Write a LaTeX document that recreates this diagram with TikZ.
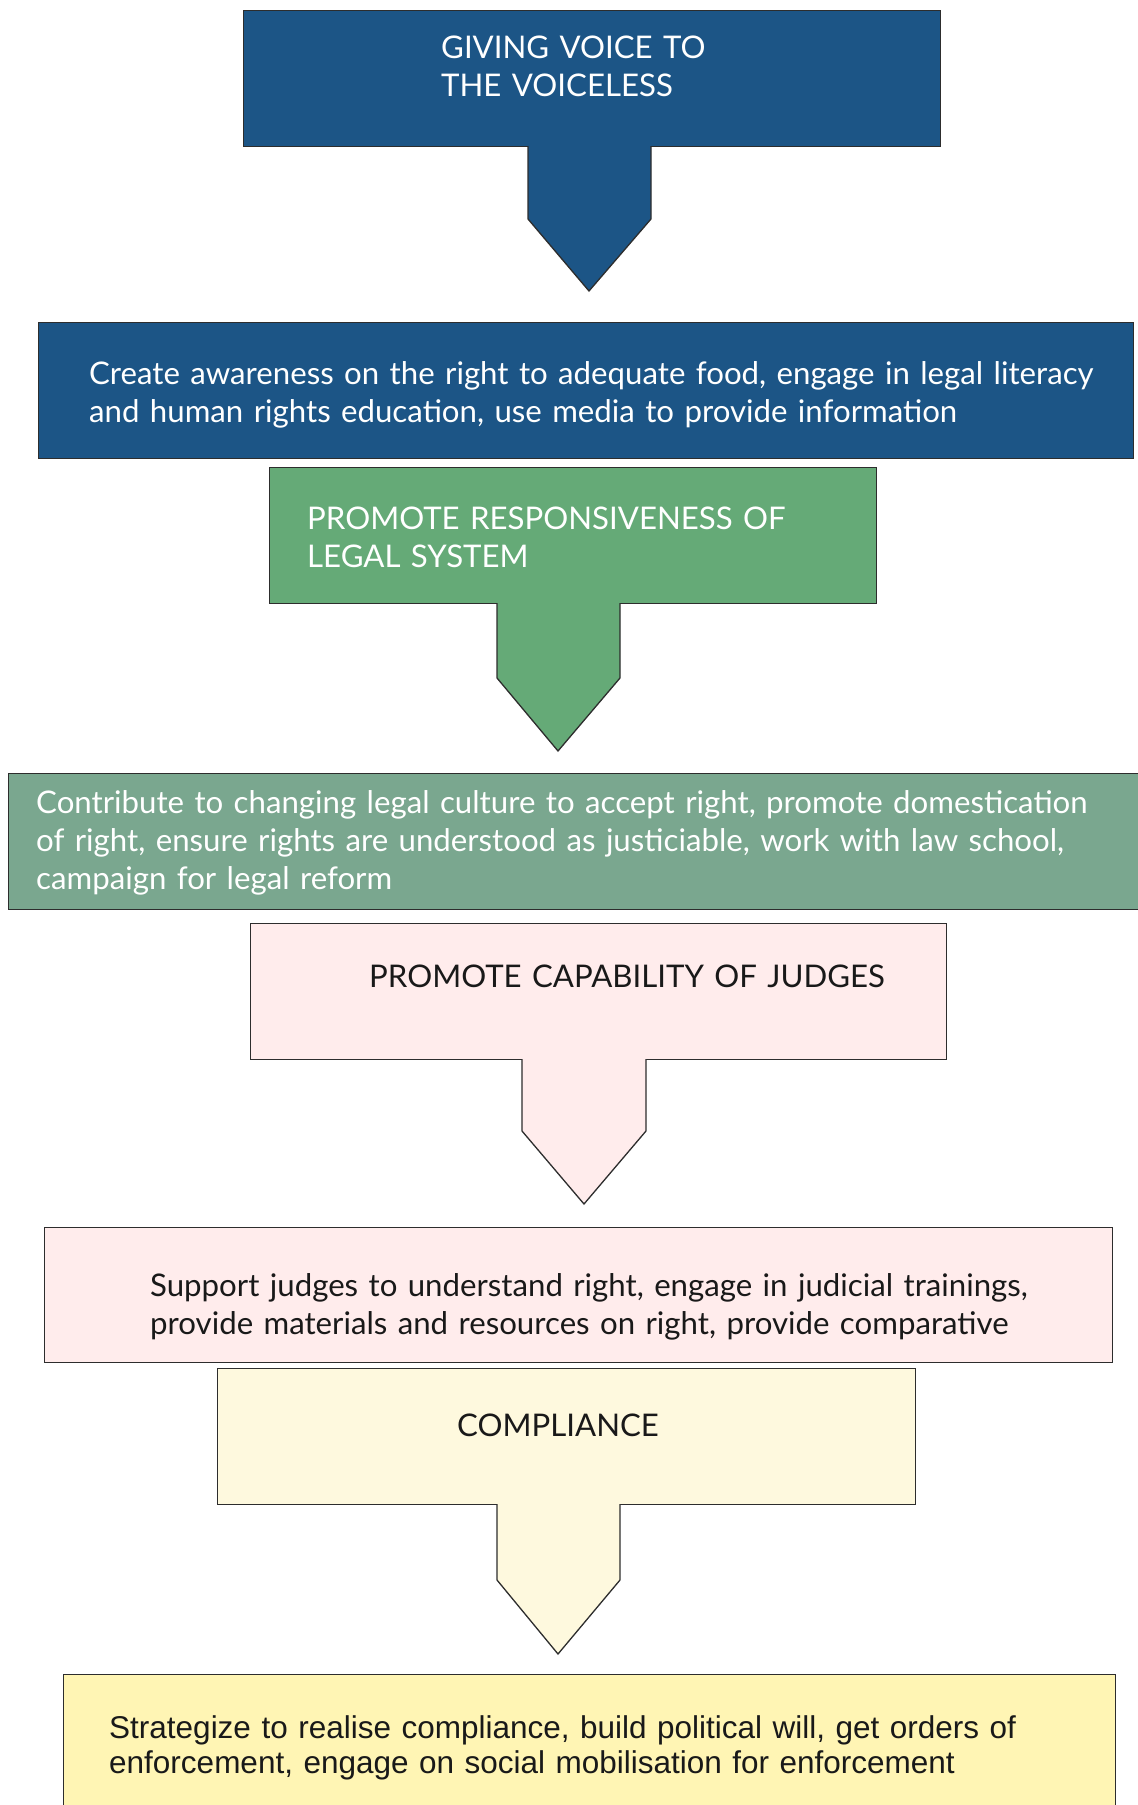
\documentclass[tikz,border=0pt]{standalone}
\usepackage{fontspec}
\setmainfont{Lato}
\newfontfamily\arialfont{Liberation Sans}
\usetikzlibrary{positioning,calc}

\definecolor{voiceblue}{RGB}{28,85,134}
\definecolor{legalgreen}{RGB}{101,170,119}
\definecolor{culturegreen}{RGB}{122,167,143}
\definecolor{judgepink}{RGB}{255,236,236}
\definecolor{complyyellow}{RGB}{254,249,222}
\definecolor{strategyyellow}{RGB}{255,245,180}
\definecolor{edgegray}{RGB}{45,45,45}

\tikzset{
  stagebox/.style={draw=edgegray, line width=1.3pt, inner sep=0pt, anchor=north west},
  stagetext/.style={font=\fontsize{31.2}{38}\selectfont, align=left, text width=1100pt, inner sep=0pt, anchor=base west},
  chevron/.style={draw=edgegray, line width=1.3pt, line join=miter}
}

\begin{document}
\begin{tikzpicture}[x=1pt,y=-1pt]
\useasboundingbox (0,0) rectangle (1138,1805);

% giving voice
\node[stagebox, fill=voiceblue, minimum width=697pt, minimum height=136pt] (voice) at (243,10) {};
\node[stagetext, text=white] (voice-txt) at (441,58.5) {GIVING VOICE TO\\THE VOICELESS};
\draw[chevron, fill=voiceblue] (528,146) -- (528,219) -- (589,291) -- (651,219) -- (651,146);

\node[stagebox, fill=voiceblue, minimum width=1095pt, minimum height=136pt] (aware) at (38,322) {};
\node[stagetext, text=white] (aware-txt) at (89,384.5) {Create awareness on the right to adequate food, engage in legal literacy\\and human rights education, use media to provide information};

% legal system
\node[stagebox, fill=legalgreen, minimum width=607pt, minimum height=136pt] (legal) at (269,467) {};
\node[stagetext, text=white] (legal-txt) at (307,529.5) {PROMOTE RESPONSIVENESS OF\\LEGAL SYSTEM};
\draw[chevron, fill=legalgreen] (497,603) -- (497,678) -- (558,751) -- (620,678) -- (620,603);

\node[stagebox, fill=culturegreen, minimum width=1140pt, minimum height=136pt] (culture) at (8,773) {};
\node[stagetext, text=white] (culture-txt) at (36,813.5) {Contribute to changing legal culture to accept right, promote domestication\\of right, ensure rights are understood as justiciable, work with law school,\\campaign for legal reform};

% judges
\node[stagebox, fill=judgepink, minimum width=696pt, minimum height=136pt] (judges) at (250,923) {};
\node[stagetext, text=black!90] (judges-txt) at (369,987.5) {PROMOTE CAPABILITY OF JUDGES};
\draw[chevron, fill=judgepink] (522,1059) -- (522,1131) -- (584,1204) -- (646,1131) -- (646,1059);

\node[stagebox, fill=judgepink, minimum width=1068pt, minimum height=135pt] (support) at (44,1227) {};
\node[stagetext, text=black!90] (support-txt) at (150,1296.5) {Support judges to understand right, engage in judicial trainings,\\provide materials and resources on right, provide comparative};

% compliance
\node[stagebox, fill=complyyellow, minimum width=698pt, minimum height=136pt] (comply) at (217,1368) {};
\node[stagetext, text=black!90] (comply-txt) at (457,1436.5) {COMPLIANCE};
\draw[chevron, fill=complyyellow] (497,1504) -- (497,1580) -- (558,1654) -- (620,1580) -- (620,1504);

\node[stagebox, fill=strategyyellow, minimum width=1052pt, minimum height=150pt] (strategy) at (63,1674) {};
\node[stagetext, text=black!90, font=\arialfont\fontsize{31.5}{35}\selectfont] (strategy-txt) at (109,1738) {Strategize to realise compliance, build political will, get orders of\\enforcement, engage on social mobilisation for enforcement};
\end{tikzpicture}
\end{document}
